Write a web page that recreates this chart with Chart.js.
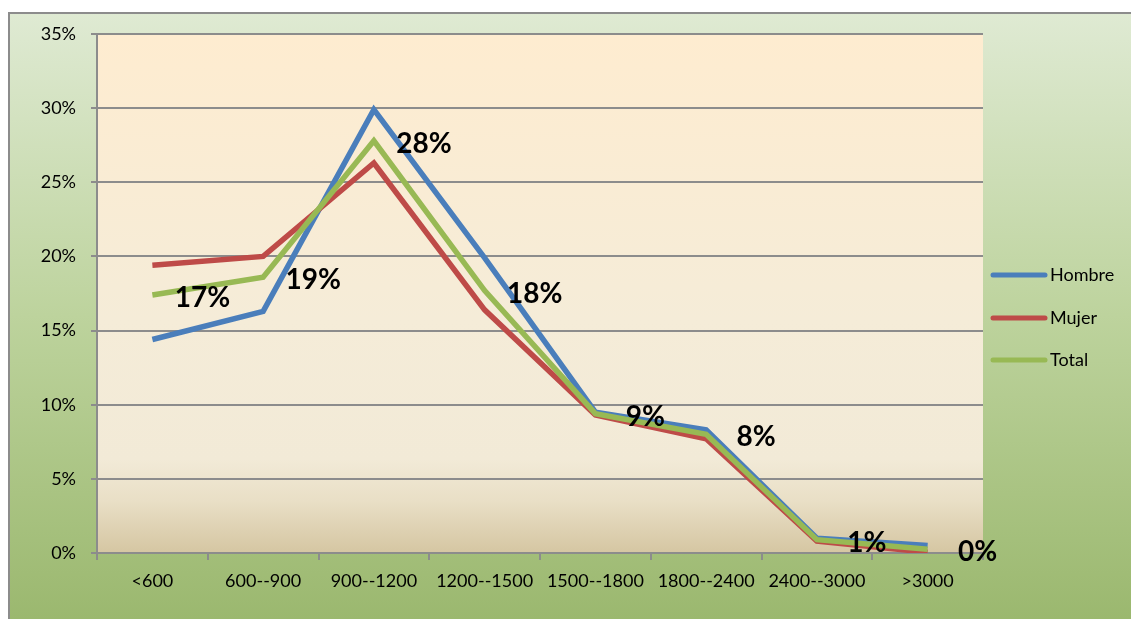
<!DOCTYPE html>
<html><head><meta charset="utf-8">
<script src="https://cdn.jsdelivr.net/npm/chart.js@4.4.1/dist/chart.umd.min.js"></script>
<style>html,body{margin:0;padding:0;background:#fff;}#wrap{width:1131px;height:619px;position:relative;}</style>
</head><body><div id="wrap"><canvas id="c" width="1131" height="619"></canvas></div>
<script>
const categories = ['<600','600--900','900--1200','1200--1500','1500--1800','1800--2400','2400--3000','>3000'];
const hombre = [14.4, 16.3, 29.9, 19.9, 9.5, 8.3, 1.0, 0.5];
const mujer  = [19.4, 20.0, 26.3, 16.4, 9.3, 7.7, 0.8, 0.05];
const total  = [17.4, 18.6, 27.8, 17.7, 9.4, 8.0, 0.9, 0.25];
const yTicks = [0,5,10,15,20,25,30,35];
const FONT = 'Lato, "Open Sans", sans-serif';

const bgPlugin = {
  id:'bg',
  beforeDraw(chart){
    const ctx = chart.ctx, W = chart.width, H = chart.height, a = chart.chartArea;
    ctx.save();
    ctx.fillStyle = '#fff'; ctx.fillRect(0,0,W,H);
    let g = ctx.createLinearGradient(0,12,0,H);
    g.addColorStop(0,'#dfead3'); g.addColorStop(0.5,'#bdd39d'); g.addColorStop(1,'#9bb86f');
    ctx.fillStyle = g; ctx.fillRect(8,12,W-8,H-12);
    ctx.strokeStyle = '#8c8c8c'; ctx.lineWidth = 2;
    ctx.beginPath(); ctx.moveTo(9,H); ctx.lineTo(9,13); ctx.lineTo(W,13); ctx.stroke();
    let p = ctx.createLinearGradient(0,a.top,0,a.bottom);
    p.addColorStop(0,'#feecd0'); p.addColorStop(0.55,'#f5ecd8'); p.addColorStop(0.82,'#f2ead7');
    p.addColorStop(0.9,'#e9dfc6'); p.addColorStop(1,'#d5c6a2');
    ctx.fillStyle = p; ctx.fillRect(a.left,a.top,a.right-a.left,a.bottom-a.top);
    ctx.restore();
  },
  afterDraw(chart){
    const ctx = chart.ctx;
    ctx.save();
    const meta = chart.getDatasetMeta(2);
    ctx.font = 'bold 28px ' + FONT; ctx.fillStyle = '#000';
    ctx.textAlign = 'center'; ctx.textBaseline = 'middle';
    meta.data.forEach((pt,i)=>{
      ctx.fillText(Math.round(total[i]) + '%', pt.x + 50, pt.y + 3);
    });
    const ys = [275,318,360];
    chart.data.datasets.forEach((ds,i)=>{
      ctx.strokeStyle = ds.borderColor; ctx.lineWidth = 5; ctx.lineCap = 'round';
      ctx.beginPath(); ctx.moveTo(993, ys[i]); ctx.lineTo(1045, ys[i]); ctx.stroke();
      ctx.font = '18px ' + FONT; ctx.fillStyle = '#000'; ctx.textAlign = 'left'; ctx.textBaseline = 'middle';
      ctx.fillText(ds.label, 1050, ys[i]);
    });
    ctx.restore();
  }
};

new Chart(document.getElementById('c'), {
  type:'line',
  data:{
    labels: categories,
    datasets:[
      {label:'Hombre', data:hombre, borderColor:'#4a7ebb', order:2},
      {label:'Mujer', data:mujer, borderColor:'#be4b48', order:1},
      {label:'Total', data:total, borderColor:'#98b954', order:0}
    ].map(d=>Object.assign(d,{borderWidth:5.5, pointRadius:0, fill:false, tension:0, borderJoinStyle:'miter', borderCapStyle:'butt'}))
  },
  options:{
    responsive:false, animation:false, devicePixelRatio:1,
    layout:{padding:{left:8, top:34, right:148, bottom:0}},
    plugins:{legend:{display:false}, tooltip:{enabled:false}},
    scales:{
      x:{
        offset:true,
        grid:{display:true, drawOnChartArea:false, drawTicks:true, tickLength:7, color:'#8c8c8c', lineWidth:2, offset:true},
        border:{display:true, color:'#8c8c8c', width:2},
        ticks:{color:'#000', font:{family:FONT, size:18}, padding:10, maxRotation:0, autoSkip:false},
        afterFit(s){ s.height = 66; }
      },
      y:{
        min:0, max:35,
        afterBuildTicks(s){ s.ticks = yTicks.map(v=>({value:v})); },
        grid:{color:'#8c8c8c', lineWidth:2, drawTicks:true, tickLength:6},
        border:{display:true, color:'#8c8c8c', width:2},
        ticks:{color:'#000', font:{family:FONT, size:18}, padding:15, callback:v=>v+'%'},
        afterFit(s){ s.width = 89; }
      }
    }
  },
  plugins:[bgPlugin]
});
</script></body></html>
